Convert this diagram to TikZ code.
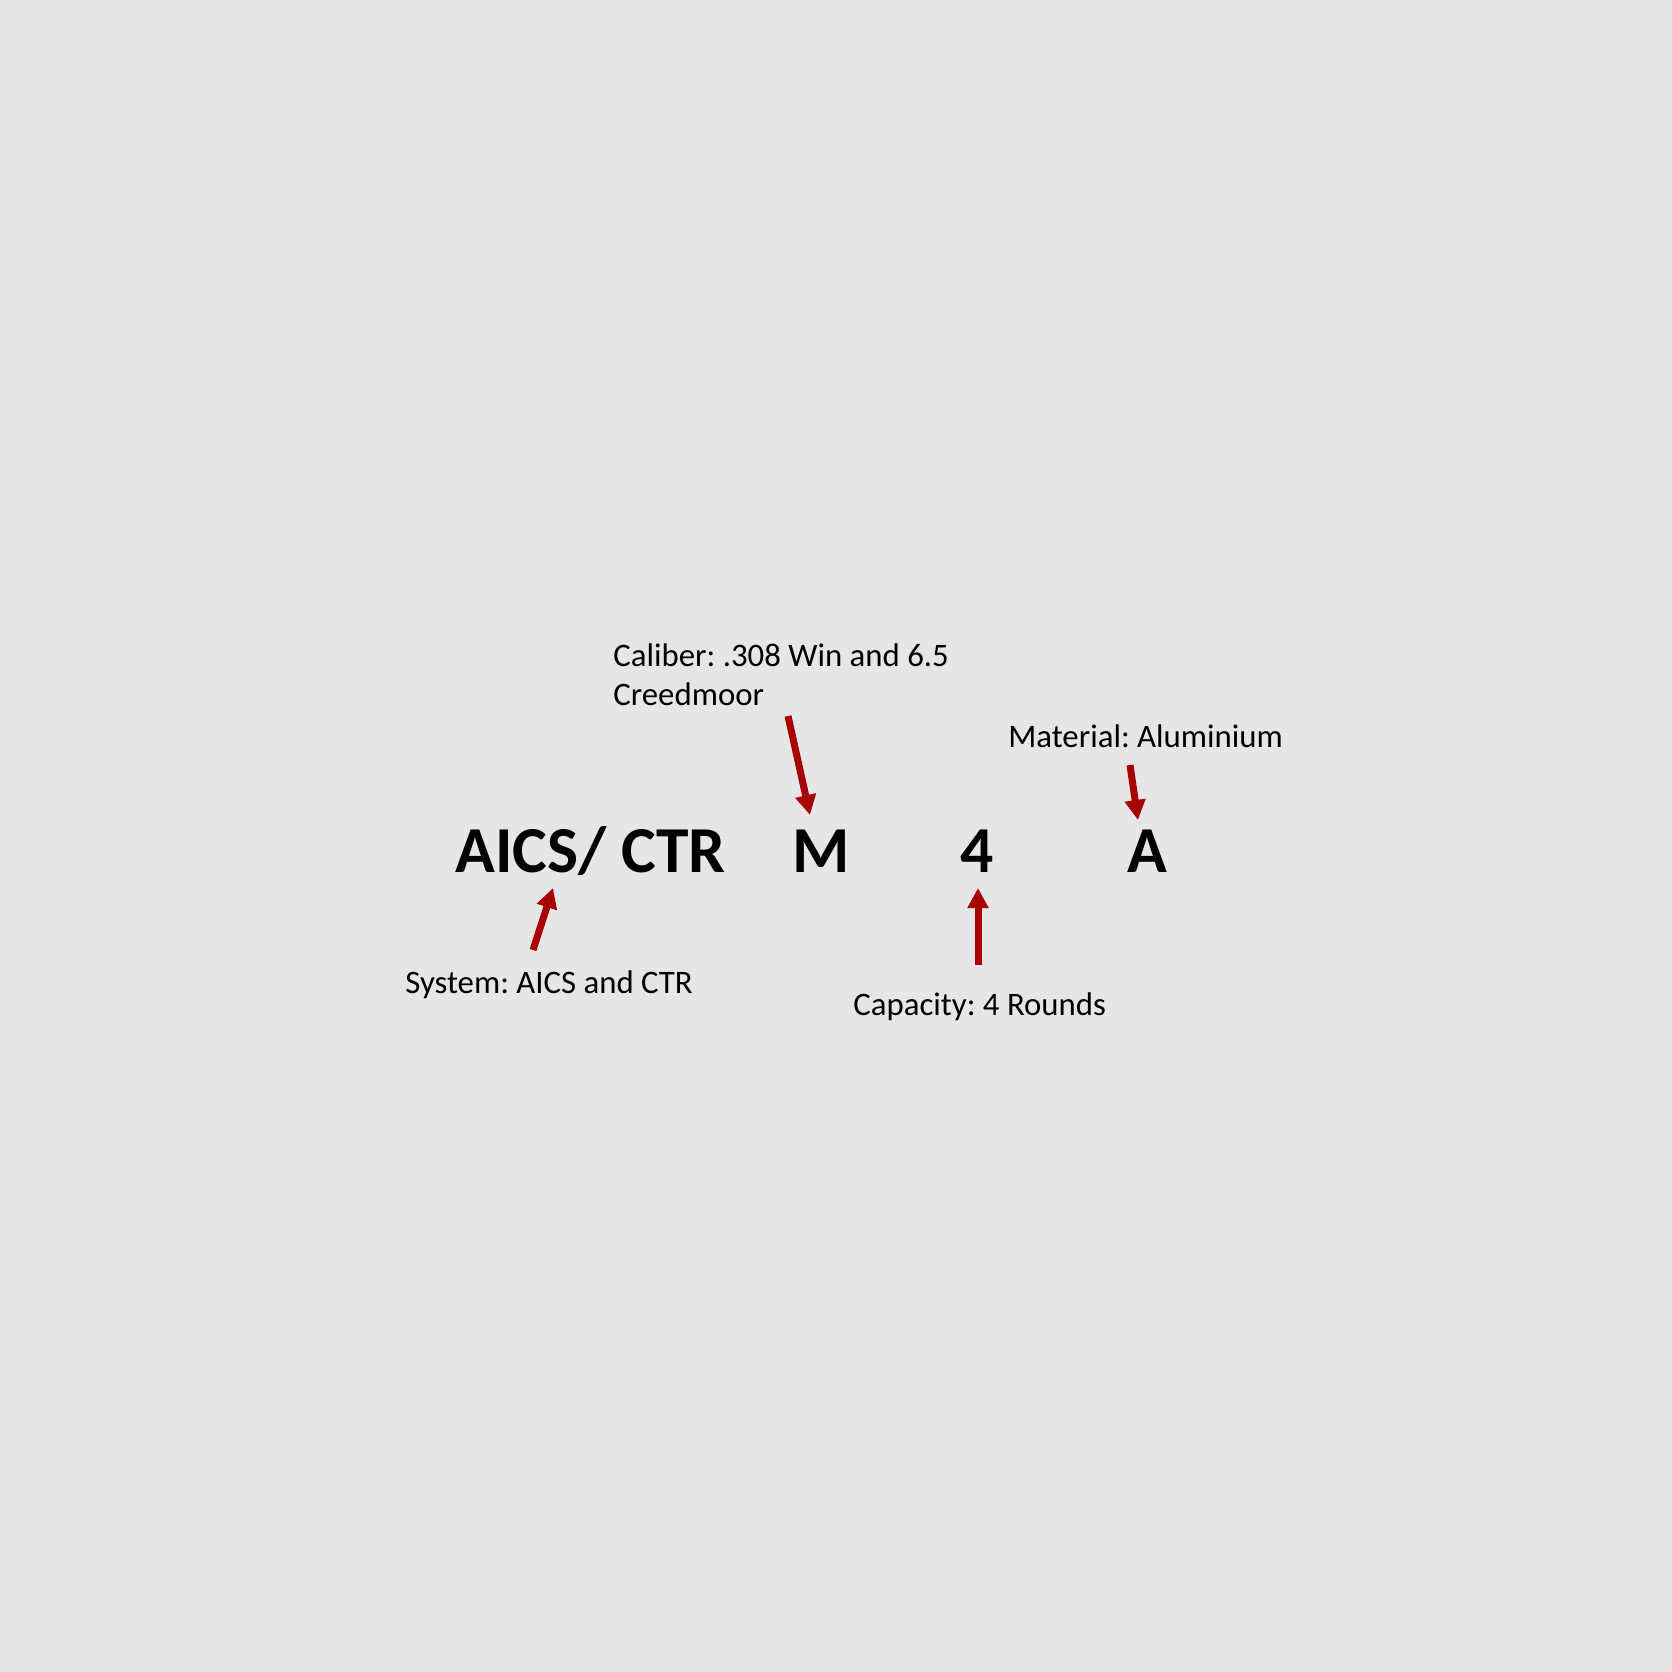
\documentclass[tikz,border=0pt]{standalone}
\usepackage{fontspec}
\setmainfont{Carlito}
\usetikzlibrary{arrows.meta}
\definecolor{bg}{HTML}{E6E6E6}
\definecolor{arrred}{HTML}{A80000}
\frenchspacing
\tikzset{
  lbl/.style={inner sep=0pt, anchor=base west, font=\fontsize{16.4pt}{19.5pt}\selectfont\frenchspacing, align=left, text=black},
  code/.style={inner sep=0pt, anchor=base west, font=\fontsize{32.8pt}{39pt}\selectfont\bfseries, text=black},
  redarrow/.style={draw=arrred, line width=3.5pt, -{Triangle[width=10pt,length=10pt]}, arrred}
}
\begin{document}
\begin{tikzpicture}[x=0.5pt,y=-0.5pt]
\fill[bg] (0,0) rectangle (1672,1672);
\useasboundingbox (0,0) rectangle (1672,1672);
% main code letters
\node[code] (sys) at (455,872) {AICS/ CTR};
\node[code] (cal) at (792,872) {M};
\node[code] (cap) at (960,872) {4};
\node[code] (mat) at (1127,872) {A};
% labels
\node[lbl] (calT) at (613,705) {Caliber: .308 Win and 6.5\\Creedmoor};
\node[lbl] (matT) at (1008,747) {Material: Aluminium};
\node[lbl] (sysT) at (405,993) {System: AICS and CTR};
\node[lbl] (capT) at (853,1015) {Capacity: 4 Rounds};
% arrow ends
\coordinate (a1s) at (533,950); \coordinate (a1e) at (553,888);
\coordinate (a2s) at (788,716); \coordinate (a2e) at (810,815);
\coordinate (a3s) at (978,965); \coordinate (a3e) at (978,888);
\coordinate (a4s) at (1130,765); \coordinate (a4e) at (1138,820);
\draw[redarrow] (a1s) -- (a1e);
\draw[redarrow] (a2s) -- (a2e);
\draw[redarrow] (a3s) -- (a3e);
\draw[redarrow] (a4s) -- (a4e);
\end{tikzpicture}
\end{document}
